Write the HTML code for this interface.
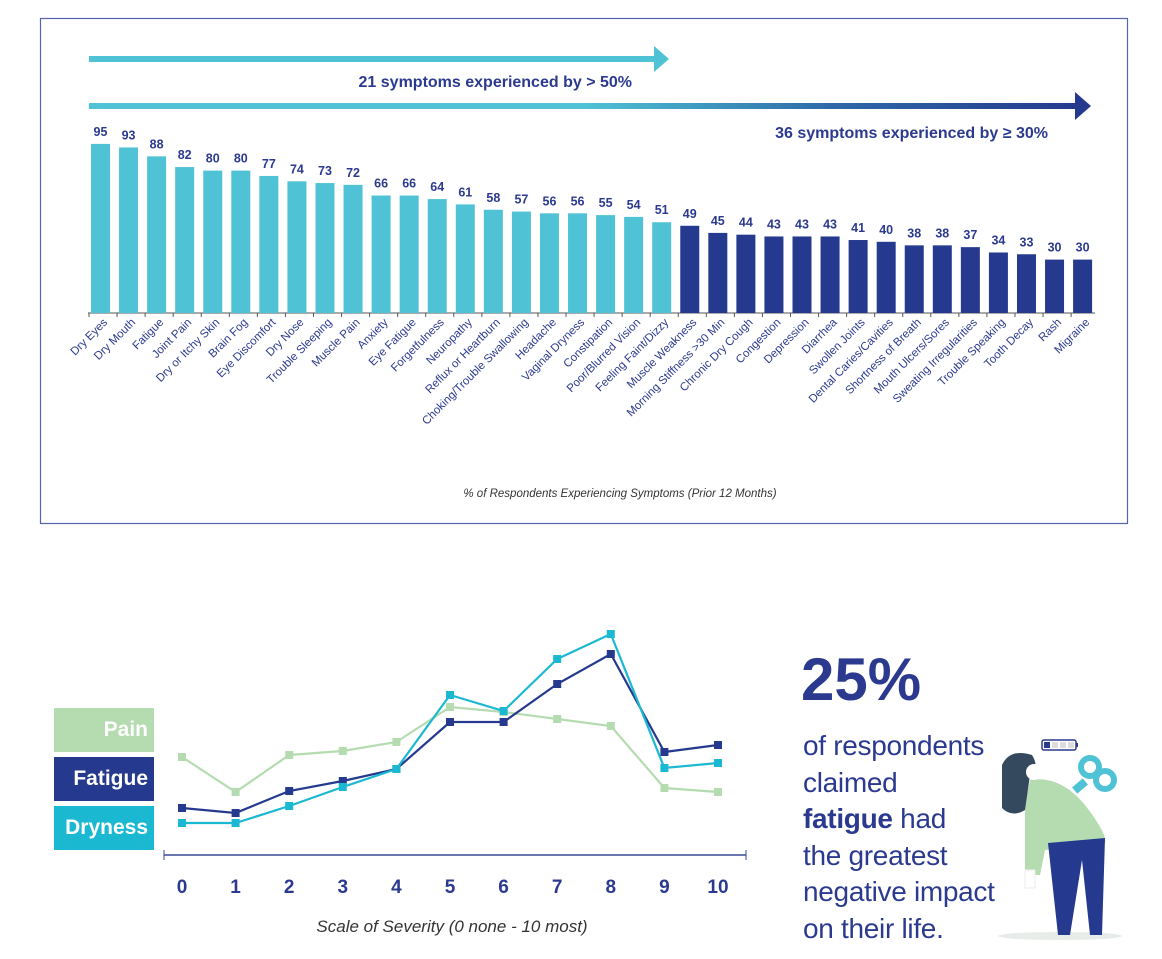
<!DOCTYPE html>
<html><head><meta charset="utf-8"><style>
body{margin:0;background:#fff;font-family:"Liberation Sans",sans-serif;}
#root{position:relative;width:1162px;height:959px;overflow:hidden;}
.lg{position:absolute;left:54px;width:100px;height:44px;color:#fff;font-weight:bold;font-size:21px;text-align:right;box-sizing:border-box;padding-right:6px;line-height:44px;}
.txt{position:absolute;left:803px;color:#2b3a8f;font-size:28px;line-height:36.5px;letter-spacing:-0.3px;}
</style></head><body>
<div id="root">
<svg id="bar" width="1162" height="540" style="position:absolute;left:0;top:0">
<defs><linearGradient id="gr" x1="0" x2="1"><stop offset="0" stop-color="#4fc3d5"/><stop offset="0.5" stop-color="#4fc3d5"/><stop offset="0.75" stop-color="#2e6aa8"/><stop offset="1" stop-color="#253a8e"/></linearGradient></defs>
<rect x="40.5" y="18.5" width="1087" height="505" fill="none" stroke="#5564ad" stroke-width="1.2"/>
<g><rect x="89" y="56" width="566" height="6" fill="#4fc3d5"/><polygon points="654,46 669,59 654,72" fill="#4fc3d5"/></g>
<text x="632" y="87" text-anchor="end" font-size="16" font-weight="bold" fill="#2b3a8f">21 symptoms experienced by &gt; 50%</text>
<g><rect x="89" y="103" width="987" height="6" fill="url(#gr)"/><polygon points="1075,92 1091,106 1075,120" fill="#253a8e"/></g>
<text x="1048" y="138" text-anchor="end" font-size="16" font-weight="bold" fill="#2b3a8f">36 symptoms experienced by ≥ 30%</text>
<line x1="88" y1="313" x2="1095" y2="313" stroke="#555" stroke-width="1"/>
<g id="bars"></g>
<text x="620" y="497" text-anchor="middle" font-size="11.5" font-style="italic" fill="#333">% of Respondents Experiencing Symptoms (Prior 12 Months)</text>
</svg>
<svg id="line" width="760" height="340" style="position:absolute;left:0;top:610">
<g id="lines"></g>
<line x1="164" y1="245" x2="746" y2="245" stroke="#3a4a9a" stroke-width="1.5"/>
<line x1="164" y1="240" x2="164" y2="250" stroke="#3a4a9a"/><line x1="746" y1="240" x2="746" y2="250" stroke="#3a4a9a"/>
<g id="ticks"></g>
<text x="452" y="322" text-anchor="middle" font-size="17" font-style="italic" fill="#333">Scale of Severity (0 none - 10 most)</text>
</svg>
<div class="lg" style="top:708px;background:#b5dbb0">Pain</div>
<div class="lg" style="top:757px;background:#253a8e">Fatigue</div>
<div class="lg" style="top:806px;background:#1bb8d2">Dryness</div>
<div style="position:absolute;left:801px;top:645px;font-size:60px;font-weight:bold;color:#2b3a8f;">25%</div>
<div class="txt" style="top:728px">of respondents<br>claimed<br><b>fatigue</b> had<br>the greatest<br>negative impact<br>on their life.</div>
<svg width="160" height="240" style="position:absolute;left:990px;top:720px">
<ellipse cx="70" cy="216" rx="62" ry="4" fill="#e8ece8"/>
<rect x="52" y="20" width="34" height="10" rx="2" fill="none" stroke="#2b3a8f" stroke-width="1.5"/><rect x="54" y="22" width="6" height="6" fill="#2b3a8f"/><rect x="62" y="22" width="6" height="6" fill="#ddd"/><rect x="70" y="22" width="6" height="6" fill="#ddd"/><rect x="78" y="22" width="6" height="6" fill="#ddd"/><rect x="86" y="23" width="2" height="4" fill="#2b3a8f"/>
<circle cx="100" cy="47" r="9" fill="none" stroke="#4fc3d5" stroke-width="6"/><circle cx="115" cy="60" r="9" fill="none" stroke="#4fc3d5" stroke-width="6"/><rect x="83" y="62" width="14" height="8" fill="#4fc3d5" transform="rotate(-40 90 66)"/>
<path d="M40 60 Q70 55 95 85 Q118 115 115 123 L55 130 L50 155 L35 155 L35 85 Z" fill="#b5dbb0"/>
<rect x="35" y="150" width="10" height="18" fill="#fff" stroke="#eee"/>
<path d="M58 123 L115 118 L112 215 L100 215 L92 140 L80 215 L68 215 Z" fill="#253a8e"/>
<path d="M12 45 Q20 28 42 35 Q50 48 40 55 L35 90 Q22 98 12 88 Z" fill="#35495e"/>
<circle cx="44" cy="52" r="8" fill="#fff"/>
</svg>
</div>
<script>
const symptoms=["Dry Eyes","Dry Mouth","Fatigue","Joint Pain","Dry or Itchy Skin","Brain Fog","Eye Discomfort","Dry Nose","Trouble Sleeping","Muscle Pain","Anxiety","Eye Fatigue","Forgetfulness","Neuropathy","Reflux or Heartburn","Choking/Trouble Swallowing","Headache","Vaginal Dryness","Constipation","Poor/Blurred Vision","Feeling Faint/Dizzy","Muscle Weakness","Morning Stiffness >30 Min","Chronic Dry Cough","Congestion","Depression","Diarrhea","Swollen Joints","Dental Caries/Cavities","Shortness of Breath","Mouth Ulcers/Sores","Sweating Irregularities","Trouble Speaking","Tooth Decay","Rash","Migraine"];
const percents=[95,93,88,82,80,80,77,74,73,72,66,66,64,61,58,57,56,56,55,54,51,49,45,44,43,43,43,41,40,38,38,37,34,33,30,30];
const severity=[0,1,2,3,4,5,6,7,8,9,10];
const pain=[11.3,7.8,11.5,11.9,12.8,16.3,15.8,15.1,14.4,8.2,7.8];
const fatigue=[6.2,5.7,7.9,8.9,10.1,14.8,14.8,18.6,21.6,11.8,12.5];
const dryness=[4.7,4.7,6.4,8.3,10.1,17.5,15.9,21.1,23.6,10.2,10.7];
const NS="http://www.w3.org/2000/svg";
function mk(t,a,p){const e=document.createElementNS(NS,t);for(const k in a)e.setAttribute(k,a[k]);p.appendChild(e);return e;}
const bx=i=>91+i*28.06, by=v=>313-v*1.78;
const bg=document.getElementById('bars');
percents.forEach((v,i)=>{
 const r=mk('rect',{x:bx(i),y:by(v),width:19,height:313-by(v),fill:v>=50?'#4fc3d5':'#253a8e'},bg);
 
 
 const t=mk('text',{x:bx(i)+9.5,y:by(v)-8,'text-anchor':'middle','font-size':12.5,'font-weight':'bold',fill:'#2b3a8f'},bg);t.textContent=v;
 
 
 mk('line',{x1:bx(i)-2,y1:313,x2:bx(i)-2,y2:317,stroke:'#555'},bg);
 const l=mk('text',{x:bx(i)+17,y:323,'text-anchor':'end','font-size':11.5,fill:'#2b3a8f',transform:`rotate(-45 ${bx(i)+17} 323)`},bg);l.textContent=symptoms[i];
 
 
});
const lx=s=>182+s*53.6, ly=v=>260-v*10;
const lg=document.getElementById('lines');
[[pain,'#b5dbb0','pain'],[fatigue,'#253a8e','fatigue'],[dryness,'#1bb8d2','dryness']].forEach(([d,c,n])=>{
 const p=mk('polyline',{points:d.map((v,i)=>lx(severity[i])+','+ly(v)).join(' '),fill:'none',stroke:c,'stroke-width':2.2},lg);
 
 
 d.forEach((v,i)=>{const m=mk('rect',{x:lx(severity[i])-4,y:ly(v)-4,width:8,height:8,fill:c},lg);
 
 });
});
const tg=document.getElementById('ticks');
severity.forEach(s=>{const t=mk('text',{x:lx(s),y:283,'text-anchor':'middle','font-size':19,'font-weight':'bold',fill:'#2b3a8f'},tg);t.textContent=s;
 
 });
</script>
</body></html>
